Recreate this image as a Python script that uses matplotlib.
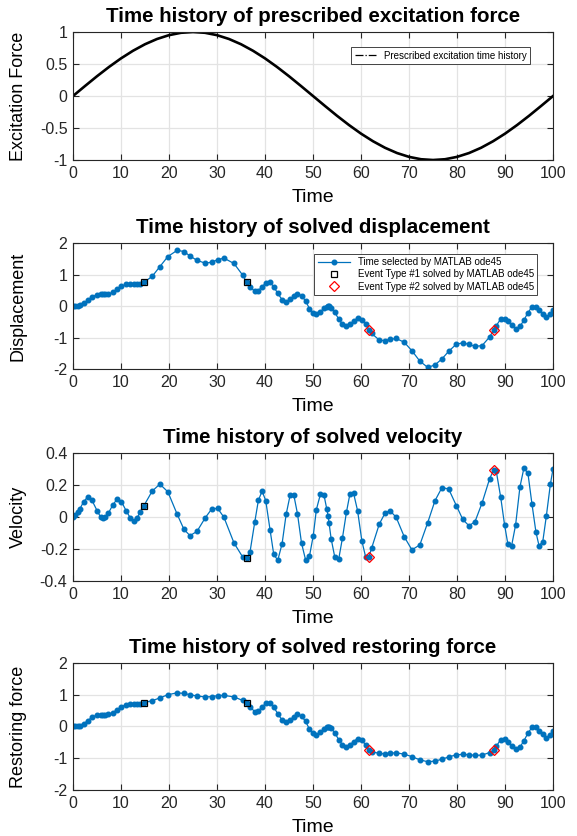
import matplotlib
matplotlib.use("Agg")
import matplotlib.pyplot as plt
from matplotlib.lines import Line2D

plt.rcParams["font.family"] = ["Liberation Sans", "DejaVu Sans"]

# prescribed excitation, sampled every 2.5 s
t_exc = [i * 2.5 for i in range(41)]
f_exc = [0.0, 0.156, 0.309, 0.454, 0.588, 0.707, 0.809, 0.891, 0.951, 0.988,
         1.0, 0.988, 0.951, 0.891, 0.809, 0.707, 0.588, 0.454, 0.309, 0.156,
         0.0, -0.156, -0.309, -0.454, -0.588, -0.707, -0.809, -0.891, -0.951, -0.988,
         -1.0, -0.988, -0.951, -0.891, -0.809, -0.707, -0.588, -0.454, -0.309, -0.156,
         0.0]

# time steps chosen by ode45
t = [0.0, 0.5, 0.95, 1.46, 2.2, 3.06, 3.95, 5.05, 5.75, 6.26, 6.68, 7.38, 8.3, 9.2,
     10.1, 11.1, 11.95, 12.65, 13.3, 14.0, 14.75,
     16.49, 18.09, 19.76, 21.71, 23.1, 24.36, 25.82, 27.56, 28.88, 30.13, 31.45,
     33.54, 35.35, 36.19, 36.88, 37.86, 38.62, 39.39, 40.15, 41.06, 41.82, 42.66,
     43.56, 44.4, 45.23, 46.0, 46.76, 47.6, 48.45, 49.25, 50.05, 50.7, 51.53,
     52.3, 52.86, 53.14, 53.35, 53.77, 54.53, 55.37, 56.14, 56.97, 57.67, 58.44,
     59.28, 60.18, 60.95, 61.65, 62.2, 63.8, 65.0, 66.0, 67.3, 69.0, 70.6, 72.25,
     73.9, 75.4, 76.85, 78.25, 79.85, 81.2, 82.5, 83.75, 85.2, 86.8, 87.66, 88.15,
     89.1, 89.9, 90.6, 91.35, 92.2, 93.1, 93.93, 94.77, 95.6, 96.44, 97.07, 97.84,
     98.6, 99.44, 100.0]

disp = [0.0, 0.003, 0.01, 0.03, 0.08, 0.18, 0.29, 0.36, 0.37, 0.37, 0.37, 0.38, 0.43, 0.53,
        0.62, 0.69, 0.71, 0.70, 0.70, 0.71, 0.75,
        0.94, 1.25, 1.57, 1.77, 1.73, 1.59, 1.45, 1.36, 1.39, 1.47, 1.52,
        1.35, 0.98, 0.75, 0.61, 0.47, 0.49, 0.61, 0.73, 0.75, 0.61, 0.40,
        0.20, 0.14, 0.21, 0.31, 0.38, 0.33, 0.16, -0.08, -0.22, -0.26, -0.18,
        -0.07, -0.02, -0.01, -0.01, -0.05, -0.20, -0.42, -0.58, -0.64, -0.58, -0.48,
        -0.38, -0.43, -0.58, -0.75, -0.87, -1.08, -1.10, -1.06, -1.03, -1.15, -1.42, -1.75,
        -1.95, -1.87, -1.68, -1.44, -1.21, -1.17, -1.22, -1.28, -1.26, -0.98, -0.75, -0.63,
        -0.41, -0.40, -0.49, -0.60, -0.72, -0.65, -0.45, -0.21, -0.03, -0.03, -0.14, -0.24,
        -0.35, -0.26, -0.14]

vel = [0.0, 0.015, 0.032, 0.053, 0.095, 0.126, 0.105, 0.038, 0.0, -0.008, 0.0, 0.025, 0.076, 0.113,
       0.096, 0.038, -0.006, -0.022, -0.008, 0.032, 0.07,
       0.162, 0.206, 0.158, 0.017, -0.076, -0.116, -0.09, -0.004, 0.05, 0.055, -0.002,
       -0.162, -0.25, -0.257, -0.217, -0.032, 0.105, 0.162, 0.103, -0.082, -0.234, -0.27,
       -0.166, 0.017, 0.137, 0.137, 0.021, -0.162, -0.268, -0.246, -0.116, 0.047, 0.142,
       0.135, 0.051, 0.008, -0.04, -0.135, -0.25, -0.26, -0.129, 0.032, 0.142, 0.15,
       0.04, -0.15, -0.248, -0.248, -0.195, -0.044, 0.025, 0.04, 0.0, -0.123, -0.205, -0.174,
       -0.034, 0.102, 0.184, 0.176, 0.072, -0.015, -0.055, -0.028, 0.087, 0.241, 0.296, 0.29,
       0.123, -0.049, -0.171, -0.182, -0.049, 0.188, 0.307, 0.273, 0.083, -0.095, -0.178, -0.157,
       0.006, 0.205, 0.303]

restoring = [0.0, 0.003, 0.01, 0.03, 0.08, 0.18, 0.29, 0.36, 0.37, 0.37, 0.37, 0.38, 0.43, 0.53,
             0.62, 0.69, 0.71, 0.70, 0.70, 0.71, 0.75,
             0.81, 0.90, 1.00, 1.06, 1.04, 1.00, 0.96, 0.93, 0.94, 0.97, 0.98,
             0.93, 0.82, 0.75, 0.61, 0.47, 0.49, 0.61, 0.73, 0.75, 0.61, 0.40,
             0.20, 0.14, 0.21, 0.31, 0.38, 0.33, 0.16, -0.08, -0.22, -0.26, -0.18,
             -0.07, -0.02, -0.01, -0.01, -0.05, -0.20, -0.42, -0.58, -0.64, -0.58, -0.48,
             -0.38, -0.43, -0.58, -0.75, -0.79, -0.85, -0.86, -0.84, -0.83, -0.87, -0.95, -1.05,
             -1.11, -1.09, -1.03, -0.96, -0.89, -0.88, -0.89, -0.91, -0.90, -0.82, -0.75, -0.63,
             -0.41, -0.40, -0.49, -0.60, -0.72, -0.65, -0.45, -0.21, -0.03, -0.03, -0.14, -0.24,
             -0.35, -0.26, -0.14]

# event times
t_ev1 = [14.75, 36.19]
t_ev2 = [61.65, 87.66]
disp_ev1 = [0.75, 0.75]
disp_ev2 = [-0.75, -0.75]
vel_ev1 = [0.07, -0.257]
vel_ev2 = [-0.248, 0.296]
rest_ev1 = [0.75, 0.75]
rest_ev2 = [-0.75, -0.75]

BLUE = "#0072BD"
AXC = "#262626"

fig = plt.figure(figsize=(5.77, 8.36), dpi=100)
bottoms = [0.8086, 0.5586, 0.305, 0.055]
heights = [0.1531, 0.1507, 0.153, 0.152]
axes = [fig.add_axes([0.1265, b, 0.832, h]) for b, h in zip(bottoms, heights)]


def style(ax, title, ylabel, ylim, yticks, yticklabels):
    ax.set_xlim(0, 100)
    ax.set_xticks(range(0, 101, 10))
    ax.set_ylim(*ylim)
    ax.set_yticks(yticks)
    ax.set_yticklabels(yticklabels)
    ax.grid(True, color="#e3e3e3", linewidth=0.9)
    ax.set_axisbelow(True)
    ax.tick_params(direction="in", top=True, right=True, labelsize=11.5,
                   length=4, width=0.8, colors=AXC, pad=4)
    for s in ax.spines.values():
        s.set_color(AXC)
        s.set_linewidth(0.8)
    ax.set_title(title, fontsize=14.8, fontweight="bold", pad=7)
    ax.set_xlabel("Time", fontsize=14, labelpad=6)
    ax.set_ylabel(ylabel, fontsize=13)
    ax.yaxis.set_label_coords(-0.096, 0.5)


ax1 = axes[0]
ax1.plot(t_exc, f_exc, color="black", linewidth=1.9)
style(ax1, "Time history of prescribed excitation force", "Excitation Force",
      (-1, 1), [-1, -0.5, 0, 0.5, 1], ["-1", "-0.5", "0", "0.5", "1"])
h_exc = Line2D([], [], color="black", linestyle="-.", linewidth=0.9)
leg1 = ax1.legend([h_exc], ["Prescribed excitation time history"], loc="upper right",
                  bbox_to_anchor=(0.962, 0.918), fontsize=7.0, fancybox=False,
                  framealpha=1, edgecolor=AXC, borderpad=0.35, handlelength=2.2)
leg1.get_frame().set_linewidth(0.6)

series = [
    (axes[1], disp, disp_ev1, disp_ev2, "Time history of solved displacement",
     "Displacement", (-2, 2), [-2, -1, 0, 1, 2], ["-2", "-1", "0", "1", "2"]),
    (axes[2], vel, vel_ev1, vel_ev2, "Time history of solved velocity",
     "Velocity", (-0.4, 0.4), [-0.4, -0.2, 0, 0.2, 0.4], ["-0.4", "-0.2", "0", "0.2", "0.4"]),
    (axes[3], restoring, rest_ev1, rest_ev2, "Time history of solved restoring force",
     "Restoring force", (-2, 2), [-2, -1, 0, 1, 2], ["-2", "-1", "0", "1", "2"]),
]

for i, (ax, y, ev1, ev2, title, ylab, ylim, yt, ytl) in enumerate(series):
    l0, = ax.plot(t, y, color=BLUE, linewidth=0.9, marker="o", markersize=3.3)
    l1, = ax.plot(t_ev1, ev1, linestyle="none", marker="s", markersize=5,
                  markerfacecolor="none", markeredgecolor="black", markeredgewidth=0.9)
    l2, = ax.plot(t_ev2, ev2, linestyle="none", marker="D", markersize=5,
                  markerfacecolor="none", markeredgecolor="red", markeredgewidth=0.9)
    style(ax, title, ylab, ylim, yt, ytl)
    if i == 0:
        leg = ax.legend([l0, l1, l2],
                        ["Time selected by MATLAB ode45",
                         "Event Type #1 solved by MATLAB ode45",
                         "Event Type #2 solved by MATLAB ode45"],
                        loc="upper right", bbox_to_anchor=(0.977, 0.955), fontsize=7.0,
                        fancybox=False, framealpha=1, edgecolor=AXC, borderpad=0.35,
                        handlelength=3.3, labelspacing=0.25)
        leg.get_frame().set_linewidth(0.6)

fig.savefig("out.png", dpi=100)
